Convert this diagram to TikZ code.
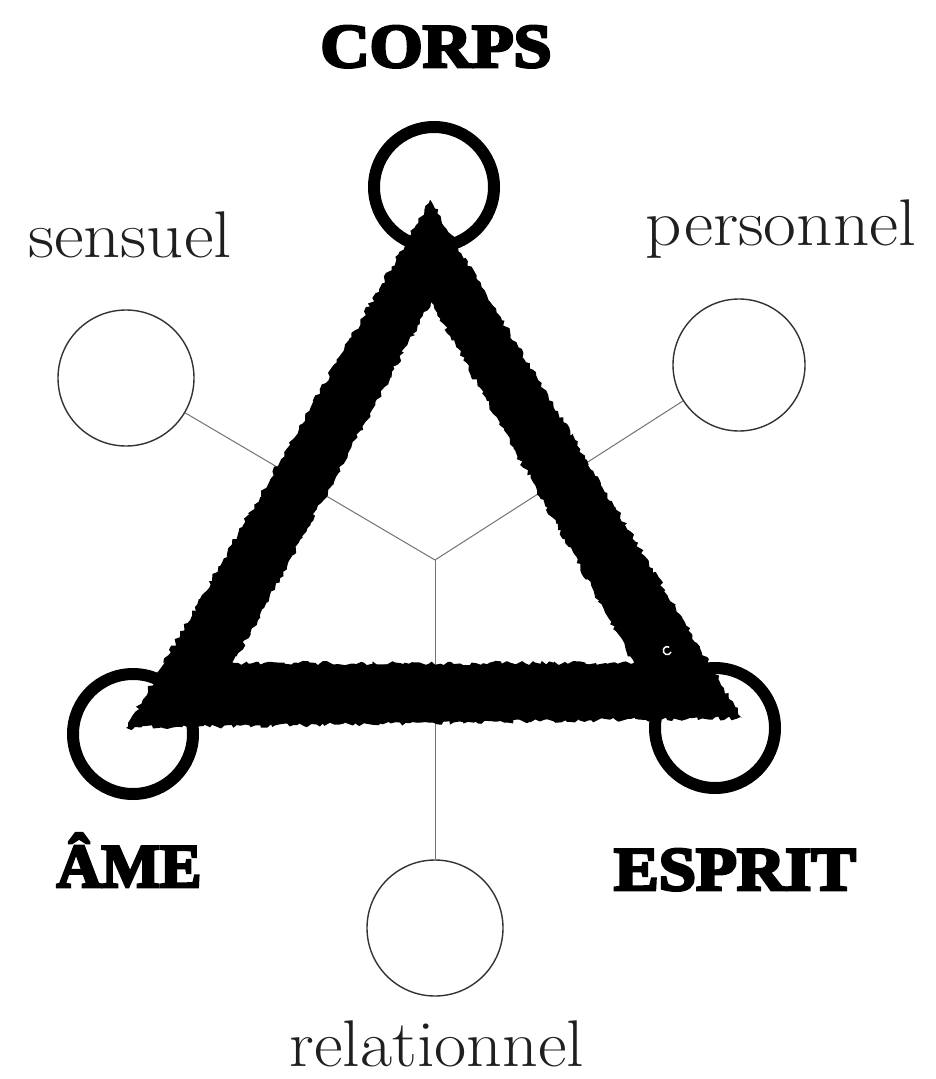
\documentclass[tikz,border=0pt]{standalone}
\usepackage{fontspec}
\usepackage{graphicx}
\usetikzlibrary{decorations.pathmorphing}
\newfontfamily\heavy{Liberation Serif}[UprightFont={* Bold},FakeBold=4.5]
\pgfmathsetseed{7}
\begin{document}
\begin{tikzpicture}[x=1pt,y=-1pt,
  ring/.style={circle, draw=black, line width=12pt, minimum size=120pt, inner sep=0pt},
  hollow/.style={circle, draw=black!80, line width=1.4pt, minimum size=136pt, inner sep=0pt},
  title/.style={font=\heavy\fontsize{62}{62}\selectfont, inner sep=0pt, anchor=base},
  lbl/.style={font=\fontsize{66}{66}\selectfont, text=black!88, inner sep=0pt, anchor=base},
  link/.style={draw=black!55, line width=1pt},
  rough/.style={decoration={random steps,segment length=3.5pt,amplitude=2.2pt}}]
\fill[white] (0,0) rectangle (935,1079);
% thin circles and links
\node[hollow] (sens) at (126,378) {};
\node[hollow, minimum size=132pt] (pers) at (739,365) {};
\node[hollow] (rel) at (435,928) {};
\coordinate (J) at (435,560);
\draw[link] (sens) -- (J);
\draw[link] (pers) -- (J);
\draw[link] (J) -- (rel);
% thick triangle
\fill[black, even odd rule]
  decorate[rough]{(430,200) -- (126,728) -- (742,718) -- cycle}
  decorate[rough]{(431,302) -- (234,663) -- (634,663) -- cycle};
\draw[white, line width=1.5pt] (671,652) arc[start angle=20, end angle=300, radius=4];
% rings
\node[ring] (corpsring) at (434,187) {};
\node[ring] (amering) at (133,734) {};
\node[ring] (espritring) at (715,728) {};
% labels
\node[title] (corps) at (436,67) {\scalebox{1.1}[1]{CORPS}};
\node[title] (ame) at (129,887) {\scalebox{1.0}[1]{ÂME}};
\node[title] (esprit) at (735,890) {\scalebox{1.08}[1]{ESPRIT}};
\node[lbl] (sensuel) at (130,257) {\scalebox{1.1}[1]{sensuel}};
\node[lbl] (personnel) at (781,245) {\scalebox{1.08}[1]{personnel}};
\node[lbl] (relationnel) at (437,1066) {\scalebox{1.06}[1]{relationnel}};
\end{tikzpicture}
\end{document}
